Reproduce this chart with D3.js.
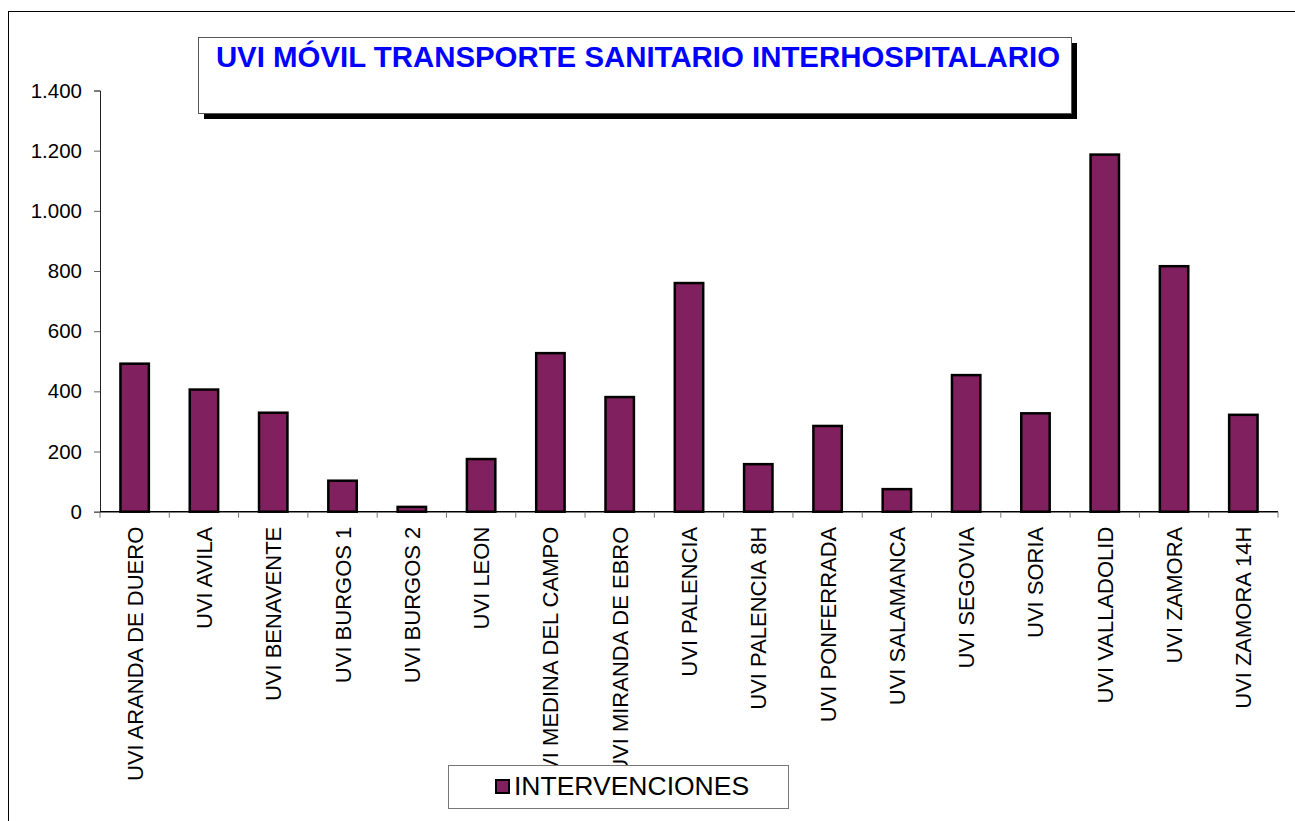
<!DOCTYPE html>
<html>
<head>
<meta charset="utf-8">
<script src="https://cdn.jsdelivr.net/npm/d3@7"></script>
<style>
  body { margin: 0; background: #fff; }
  svg { display: block; font-family: Arial, "Liberation Sans", sans-serif; }
</style>
</head>
<body>
<svg id="chart" width="1295" height="821"></svg>
<script>
const categories = [
    'UVI ARANDA DE DUERO', 'UVI AVILA', 'UVI BENAVENTE', 'UVI BURGOS 1', 'UVI BURGOS 2',
    'UVI LEON', 'UVI MEDINA DEL CAMPO', 'UVI MIRANDA DE EBRO', 'UVI PALENCIA',
    'UVI PALENCIA 8H', 'UVI PONFERRADA', 'UVI SALAMANCA', 'UVI SEGOVIA', 'UVI SORIA',
    'UVI VALLADOLID', 'UVI ZAMORA', 'UVI ZAMORA 14H'
];
const intervenciones = [492, 406, 329, 103, 16, 175, 527, 381, 760, 158, 285, 75, 454, 327, 1187, 816, 322];
const yTicks = [0, 200, 400, 600, 800, 1000, 1200, 1400];
const seriesName = 'INTERVENCIONES';
const title = 'UVI MÓVIL TRANSPORTE SANITARIO INTERHOSPITALARIO';

const barColor = '#80205f';
const fmt = d3.formatLocale({ decimal: ',', thousands: '.', grouping: [3], currency: ['', ''] }).format(',d');

const svg = d3.select('#chart');

// outer chart border
svg.append('rect')
    .attr('x', 8.5).attr('y', 11.5)
    .attr('width', 1300).attr('height', 830)
    .attr('fill', 'none').attr('stroke', '#000').attr('stroke-width', 1);

const plot = { left: 100, right: 1278, top: 90.5, bottom: 511.7 };

const xScale = d3.scaleBand()
    .domain(categories)
    .range([plot.left, plot.right])
    .paddingInner(0.59)
    .paddingOuter(0.295);

const yScale = d3.scaleLinear()
    .domain([0, 1400])
    .range([plot.bottom, plot.top]);

// Y axis
const yAxis = d3.axisLeft(yScale)
    .tickValues(yTicks)
    .tickSize(6)
    .tickPadding(12)
    .tickFormat(fmt);
const yAxisGroup = svg.append('g')
    .attr('transform', `translate(${plot.left},0)`)
    .call(yAxis);
yAxisGroup.select('.domain').attr('stroke', '#222');
yAxisGroup.selectAll('line').attr('stroke', '#666');
yAxisGroup.selectAll('text')
    .attr('fill', '#000')
    .attr('font-size', '20.5px')
    .attr('font-family', 'Arial, "Liberation Sans", sans-serif');

// Bars
svg.append('g')
    .selectAll('rect')
    .data(intervenciones)
    .join('rect')
    .attr('x', (d, i) => xScale(categories[i]))
    .attr('y', (d) => yScale(d))
    .attr('width', xScale.bandwidth())
    .attr('height', (d) => yScale(0) - yScale(d))
    .attr('fill', barColor)
    .attr('stroke', '#000')
    .attr('stroke-width', 2.5);

// X axis line and boundary ticks
const step = xScale.step();
const xAxisGroup = svg.append('g');
xAxisGroup.append('line')
    .attr('x1', plot.left).attr('x2', plot.right)
    .attr('y1', plot.bottom).attr('y2', plot.bottom)
    .attr('stroke', '#000').attr('stroke-width', 1.5);
xAxisGroup.selectAll('line.tick')
    .data(d3.range(categories.length + 1))
    .join('line')
    .attr('class', 'tick')
    .attr('x1', (i) => plot.left + i * step)
    .attr('x2', (i) => plot.left + i * step)
    .attr('y1', plot.bottom).attr('y2', plot.bottom + 6)
    .attr('stroke', '#777');

// rotated category labels
xAxisGroup.selectAll('text')
    .data(categories)
    .join('text')
    .attr('transform', (d) => `translate(${xScale(d) + xScale.bandwidth() / 2 + 8},${plot.bottom + 15}) rotate(-90)`)
    .attr('text-anchor', 'end')
    .attr('font-size', '22px')
    .attr('fill', '#000')
    .text((d) => d);

// Title box with shadow
const tb = { x: 198, y: 37, w: 873, h: 76 };
svg.append('rect')
    .attr('x', tb.x + 6).attr('y', tb.y + 6)
    .attr('width', tb.w).attr('height', tb.h)
    .attr('fill', '#000');
svg.append('rect')
    .attr('x', tb.x + 0.5).attr('y', tb.y + 0.5)
    .attr('width', tb.w).attr('height', tb.h)
    .attr('fill', '#fff').attr('stroke', '#555').attr('stroke-width', 1);
svg.append('text')
    .attr('x', 638).attr('y', 67)
    .attr('text-anchor', 'middle')
    .attr('font-size', '29.4px')
    .attr('font-weight', 'bold')
    .attr('fill', '#0000ff')
    .text(title);

// Legend
const lg = svg.append('g');
lg.append('rect')
    .attr('x', 448.5).attr('y', 765.5)
    .attr('width', 340).attr('height', 43)
    .attr('fill', '#fff').attr('stroke', '#777');
lg.append('rect')
    .attr('x', 496).attr('y', 780)
    .attr('width', 13).attr('height', 13)
    .attr('fill', barColor).attr('stroke', '#000').attr('stroke-width', 2);
lg.append('text')
    .attr('x', 514).attr('y', 795)
    .attr('font-size', '26.5px')
    .attr('fill', '#000')
    .text(seriesName);
</script>
</body>
</html>
